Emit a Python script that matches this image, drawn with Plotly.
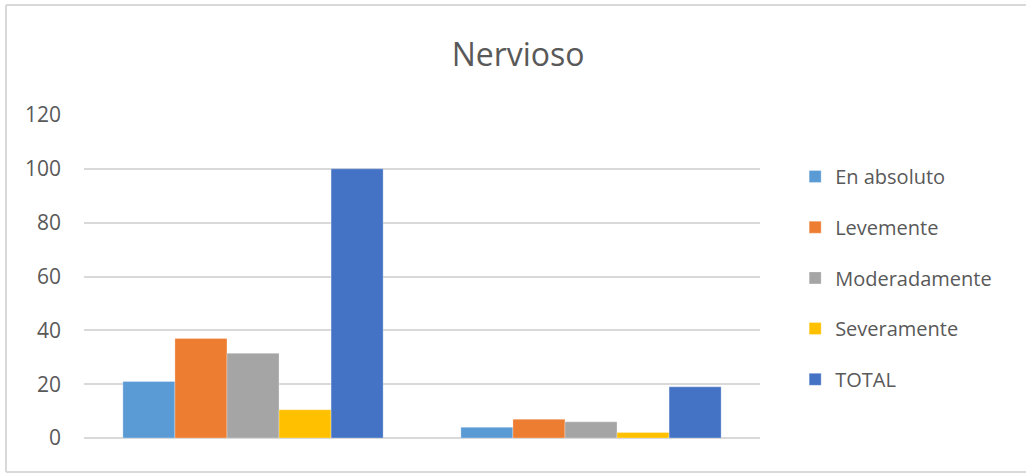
import plotly.graph_objects as go

# Two response groups (axis labels not shown on the chart)
groups = ["Grupo 1", "Grupo 2"]

series_names = ["En absoluto", "Levemente", "Moderadamente", "Severamente", "TOTAL"]
en_absoluto = [21, 4]
levemente = [37, 7]
moderadamente = [31.5, 6]
severamente = [10.5, 2]
total = [100, 19]

y_ticks = [0, 20, 40, 60, 80, 100, 120]

colors = ["#5B9BD5", "#ED7D31", "#A5A5A5", "#FFC000", "#4472C4"]
values = [en_absoluto, levemente, moderadamente, severamente, total]

fig = go.Figure()
for i, (name, vals, col) in enumerate(zip(series_names, values, colors)):
    fig.add_trace(go.Bar(
        x=groups, y=vals, name=name,
        marker=dict(color=col, line=dict(color="rgba(255,255,255,0.6)", width=0.5)),
        legendgroup=f"g{i}",
    ))

font_family = "Open Sans, Noto Sans, sans-serif"
text_color = "#595959"

# frame around the chart area (left, top and bottom edges)
px = lambda v: (v - 84) / 676
py = lambda v: (438 - v) / 323
frame = dict(color="#D9D9D9", width=2)
shapes = [
    dict(type="line", xref="paper", yref="paper", x0=px(6), x1=px(6), y0=py(472), y1=py(5), line=frame),
    dict(type="line", xref="paper", yref="paper", x0=px(6), x1=px(1026), y0=py(5), y1=py(5), line=frame),
    dict(type="line", xref="paper", yref="paper", x0=px(6), x1=px(1026), y0=py(472), y1=py(472), line=frame),
]

fig.update_layout(
    width=1026, height=473,
    margin=dict(l=84, r=266, t=115, b=35),
    paper_bgcolor="white", plot_bgcolor="white",
    barmode="group", bargap=0.23, bargroupgap=0,
    title=dict(text="Nervioso", x=0.505, xref="container", xanchor="center",
               y=0.885, yanchor="middle",
               font=dict(family=font_family, size=32, color=text_color)),
    font=dict(family=font_family, color=text_color),
    showlegend=True,
    legend=dict(
        x=1.052, xanchor="left", y=0.87, yanchor="top",
        traceorder="grouped", tracegroupgap=21.7,
        font=dict(family=font_family, size=20, color=text_color),
        bgcolor="rgba(0,0,0,0)", itemwidth=30,
    ),
    xaxis=dict(showticklabels=False, showgrid=False, zeroline=False,
               showline=False, ticks=""),
    yaxis=dict(range=[0, 120], tickvals=y_ticks, showgrid=True,
               gridcolor="#D9D9D9", gridwidth=1.5, zeroline=True,
               zerolinecolor="#D9D9D9", zerolinewidth=1.5, showline=False,
               ticks="", ticklabelstandoff=22,
               tickfont=dict(family=font_family, size=21, color=text_color)),
    shapes=shapes,
)

fig.write_html("out.html")
